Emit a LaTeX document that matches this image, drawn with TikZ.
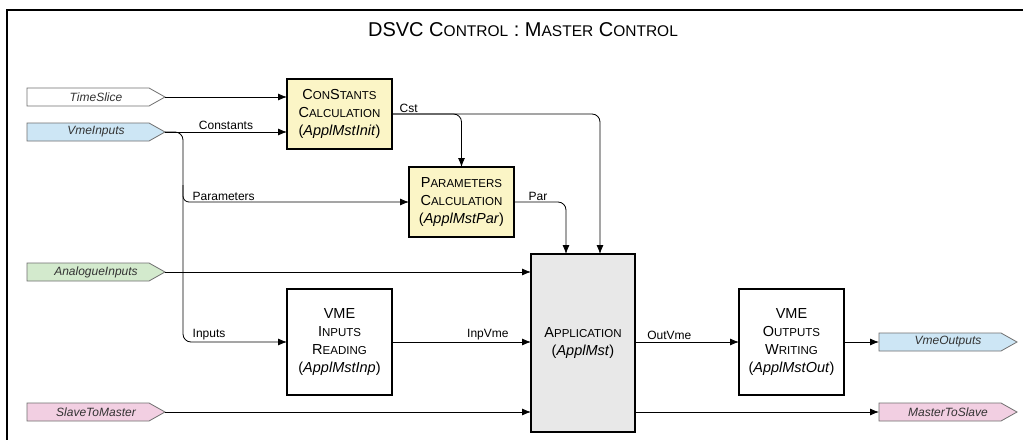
\documentclass[tikz,border=0pt]{standalone}
\usepackage{fontspec}
\setmainfont{Liberation Sans}
\usetikzlibrary{arrows.meta}
\definecolor{boxyellow}{HTML}{FBF5C6}
\definecolor{appgray}{HTML}{E8E8E8}
\definecolor{sigblue}{HTML}{CDE6F5}
\definecolor{siggreen}{HTML}{D3EACD}
\definecolor{sigpink}{HTML}{F2CFE2}
\definecolor{sigborder}{HTML}{707070}
\newcommand\SCb[1]{{\fontsize{11.5}{13}\selectfont #1}}
\newcommand\SCt[1]{{\fontsize{15.5}{17}\selectfont #1}}
% signal: name, x, y, fill, text
\newcommand\sigshape[5]{%
  \filldraw[sigline, fill=#4] ({#2-69},{#3-9}) -- ({#2+53},{#3-9}) -- ({#2+69},#3)
    -- ({#2+53},{#3+9}) -- ({#2-69},{#3+9}) -- cycle;
  \node[sigtext] (#1) at (#2,#3) {#5};}
\begin{document}
\begin{tikzpicture}[x=1pt,y=-1pt,
  sigline/.style={draw=sigborder, line width=0.8pt},
  sigtext/.style={minimum width=138pt, minimum height=18pt, inner sep=0pt, outer sep=0pt,
    font=\fontsize{12}{13}\selectfont\itshape, text=black!80},
  blk/.style={draw, line width=1.1pt, align=center, inner sep=0pt, outer sep=0pt,
    font=\fontsize{14.5}{18}\selectfont},
  arr/.style={line width=0.8pt, -{Latex[length=9pt,width=7pt]}},
  lbl/.style={font=\fontsize{12}{13}\selectfont, inner sep=1.5pt}
]
\useasboundingbox (0,0) rectangle (1023,444);
\fill[white] (0,0) rectangle (1023,444);
\draw[line width=2.2pt] (1023,10) -- (7,10) -- (7,440);

\node (title) at (523,30) {\fontsize{20}{22}\selectfont DSVC C\SCt{ONTROL} : M\SCt{ASTER} C\SCt{ONTROL}};

% signals
\sigshape{ts}{96}{97}{white}{TimeSlice}
\sigshape{vi}{96}{132}{sigblue}{VmeInputs}
\sigshape{ai}{96}{272}{siggreen}{AnalogueInputs}
\sigshape{sm}{96}{412}{sigpink}{SlaveToMaster}
\sigshape{vo}{948}{342}{sigblue}{VmeOutputs}
\sigshape{ms}{948}{412}{sigpink}{MasterToSlave}

% blocks
\node[blk, fill=boxyellow, minimum width=105pt, minimum height=70pt] (cc) at (339.5,114)
  {C\SCb{ON}S\SCb{TANTS}\\C\SCb{ALCULATION}\\(\textit{ApplMstInit})};
\node[blk, fill=boxyellow, minimum width=105pt, minimum height=70pt] (pc) at (461.5,202)
  {P\SCb{ARAMETERS}\\C\SCb{ALCULATION}\\(\textit{ApplMstPar})};
\node[blk, fill=white, minimum width=105pt, minimum height=106pt] (vin) at (339.5,342)
  {VME\\I\SCb{NPUTS}\\R\SCb{EADING}\\(\textit{ApplMstInp})};
\node[blk, fill=appgray, minimum width=104pt, minimum height=178pt] (app) at (583,343)
  {A\SCb{PPLICATION}\\(\textit{ApplMst})};
\node[blk, fill=white, minimum width=105pt, minimum height=106pt] (vout) at (791.5,342)
  {VME\\O\SCb{UTPUTS}\\W\SCb{RITING}\\(\textit{ApplMstOut})};

\coordinate (br) at (183,132);
\coordinate (br2) at (183,185);
\coordinate (a1) at (566,254);
\coordinate (a2) at (600,254);

% connectors
\draw[arr] (ts.east) -- (cc.west |- ts.east);
\draw[arr] (vi.east) -- (cc.west |- vi.east) node[lbl, midway, above] {Constants};
\draw[arr, rounded corners=8pt] (vi.east) -- (br) -- (br |- vin.west) -- (vin.west);
\node[lbl, above right] at ([xshift=8pt]br |- vin.west) {Inputs};
\draw[arr, rounded corners=6pt] (br2) -- (br |- pc.west) -- (pc.west);
\node[lbl, above right] at ([xshift=8pt]br |- pc.west) {Parameters};
\draw[arr, rounded corners=8pt] (cc.east) -- (pc.north |- cc.east) -- (pc.north);
\node[lbl, above right] at ([xshift=6pt]cc.east) {Cst};
\draw[arr, rounded corners=8pt] (cc.east) -- (a2 |- cc.east) -- (a2);
\draw[arr, rounded corners=8pt] (pc.east) -- (a1 |- pc.east) -- (a1);
\node[lbl, above right] at ([xshift=13pt]pc.east) {Par};
\draw[arr] (ai.east) -- (app.west |- ai.east);
\draw[arr] (vin.east) -- (app.west |- vin.east) node[lbl, pos=0.69, above] {InpVme};
\draw[arr] (sm.east) -- (app.west |- sm.east);
\draw[arr] (app.east |- vout.west) -- (vout.west) node[lbl, pos=0.33, above] {OutVme};
\draw[arr] (vout.east) -- (vo.west);
\draw[arr] (app.east |- ms.west) -- (ms.west);
\end{tikzpicture}
\end{document}
